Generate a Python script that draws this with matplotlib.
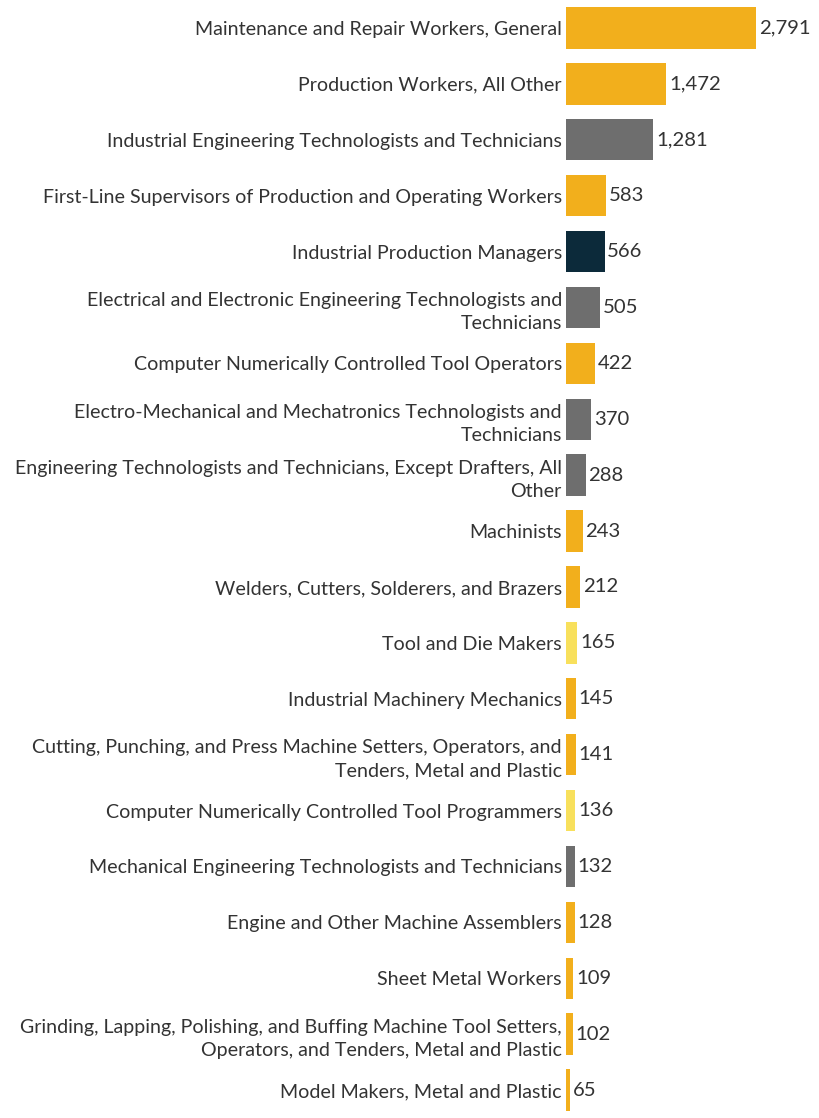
import matplotlib
matplotlib.use("Agg")
import matplotlib.pyplot as plt

# occupations, top to bottom
occupations = [
    "Maintenance and Repair Workers, General",
    "Production Workers, All Other",
    "Industrial Engineering Technologists and Technicians",
    "First-Line Supervisors of Production and Operating Workers",
    "Industrial Production Managers",
    "Electrical and Electronic Engineering Technologists and\nTechnicians",
    "Computer Numerically Controlled Tool Operators",
    "Electro-Mechanical and Mechatronics Technologists and\nTechnicians",
    "Engineering Technologists and Technicians, Except Drafters, All\nOther",
    "Machinists",
    "Welders, Cutters, Solderers, and Brazers",
    "Tool and Die Makers",
    "Industrial Machinery Mechanics",
    "Cutting, Punching, and Press Machine Setters, Operators, and\nTenders, Metal and Plastic",
    "Computer Numerically Controlled Tool Programmers",
    "Mechanical Engineering Technologists and Technicians",
    "Engine and Other Machine Assemblers",
    "Sheet Metal Workers",
    "Grinding, Lapping, Polishing, and Buffing Machine Tool Setters,\nOperators, and Tenders, Metal and Plastic",
    "Model Makers, Metal and Plastic",
]
counts = [2791, 1472, 1281, 583, 566, 505, 422, 370, 288, 243,
          212, 165, 145, 141, 136, 132, 128, 109, 102, 65]
groups = ["prod", "prod", "tech", "prod", "mgr", "tech", "prod", "tech", "tech", "prod",
          "prod", "light", "prod", "prod", "light", "tech", "prod", "prod", "prod", "prod"]

palette = {"prod": "#F2AF1C", "tech": "#6E6E6E", "mgr": "#0C2A3A", "light": "#F8E05C"}
text_col = "#333333"

plt.rcParams['font.family'] = ['Lato', 'DejaVu Sans']

fig = plt.figure(figsize=(8.19, 11.18), dpi=100)
ax = fig.add_axes([566/819, 0, 253/819, 1])

ypos = list(range(len(counts)))
ax.barh(ypos, counts, height=0.74, color=[palette[g] for g in groups])
ax.set_ylim(len(counts) - 0.5, -0.5)
ax.set_xlim(0, 2791 * 253 / 190)

ax.set_yticks(ypos)
ax.set_yticklabels(occupations, fontsize=14.1, color=text_col, ha="right",
                   multialignment="right", linespacing=1.45)
ax.tick_params(axis="y", length=0, pad=3)
ax.set_xticks([])
for s in ax.spines.values():
    s.set_visible(False)

for y, v in zip(ypos, counts):
    ax.annotate(f"{v:,}", (v, y), xytext=(2, 0), textcoords="offset points",
                va="center", ha="left", fontsize=14.6, color=text_col)

fig.savefig("out.png", dpi=100)
